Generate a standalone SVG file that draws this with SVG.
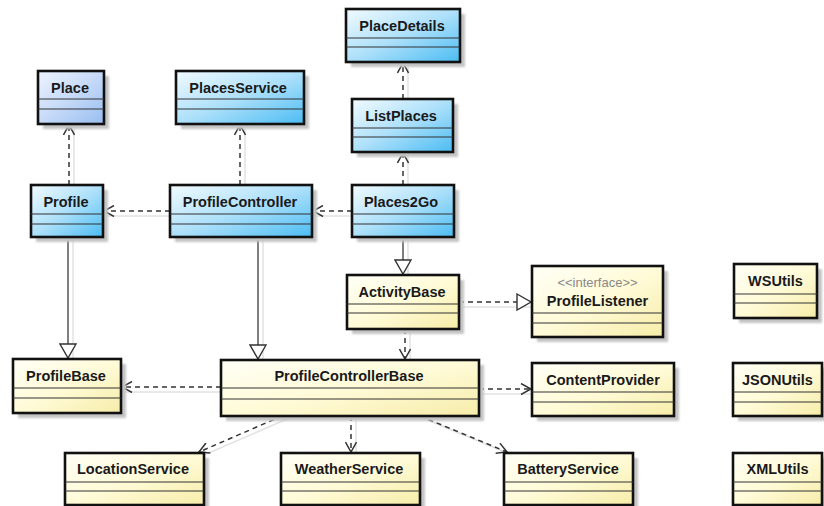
<svg xmlns="http://www.w3.org/2000/svg" width="824" height="506" viewBox="0 0 824 506">
<defs>
<linearGradient id="gBlue" x1="0" y1="0" x2="1" y2="1">
<stop offset="0" stop-color="#f2fbff"/>
<stop offset="0.5" stop-color="#ade0fa"/>
<stop offset="1" stop-color="#4bbcf3"/>
</linearGradient>
<linearGradient id="gLav" x1="0" y1="0" x2="1" y2="1">
<stop offset="0" stop-color="#eef4fe"/>
<stop offset="0.5" stop-color="#c6daf8"/>
<stop offset="1" stop-color="#98bdf0"/>
</linearGradient>
<linearGradient id="gYel" x1="0" y1="0" x2="1" y2="1">
<stop offset="0" stop-color="#fffff6"/>
<stop offset="0.5" stop-color="#fffbd8"/>
<stop offset="1" stop-color="#f6eca8"/>
</linearGradient>
<filter id="blur" x="-10%" y="-10%" width="130%" height="130%">
<feGaussianBlur stdDeviation="1.2"/>
</filter>
<marker id="open" viewBox="0 0 12 12" refX="11" refY="6" markerWidth="12" markerHeight="12" markerUnits="userSpaceOnUse" orient="auto">
<path d="M1,0.5 L11,6 L1,11.5" fill="none" stroke="#333" stroke-width="1.5" stroke-dasharray="none"/>
</marker>
<marker id="tri" viewBox="0 0 16 18" refX="15" refY="9" markerWidth="16" markerHeight="18" markerUnits="userSpaceOnUse" orient="auto">
<path d="M1,1 L15,9 L1,17 Z" fill="#fff" stroke="#333" stroke-width="1.4" stroke-dasharray="none"/>
</marker>
</defs>
<style>
.sh{fill:#c4c4c4;filter:url(#blur);}
.box{stroke:#111;stroke-width:2.6;}
.blue{fill:url(#gBlue);}
.lav{fill:url(#gLav);}
.yel{fill:url(#gYel);}
.div{stroke:#333;stroke-width:1.2;}
.t{font-family:"Liberation Sans",Arial,sans-serif;font-weight:bold;font-size:14.5px;fill:#1a1a1a;text-anchor:middle;}
.st{font-family:"Liberation Sans",Arial,sans-serif;font-size:13px;fill:#888;text-anchor:middle;}
.dash{fill:none;stroke:#333;stroke-width:1.5;stroke-dasharray:5,4;marker-end:url(#open);}
.real{fill:none;stroke:#333;stroke-width:1.5;stroke-dasharray:5,4;marker-end:url(#tri);}
.gen{fill:none;stroke:#555;stroke-width:1.5;marker-end:url(#tri);}
.lsh{fill:none;stroke:#e2e2e2;stroke-width:1.5;}
</style>

<g id="connectors">
<g id="conn-shadows">
<line class="lsh" x1="74" y1="185" x2="74" y2="127"/>
<line class="lsh" x1="245" y1="185" x2="245" y2="127"/>
<line class="lsh" x1="408" y1="99" x2="408" y2="65"/>
<line class="lsh" x1="408" y1="185" x2="408" y2="155"/>
<line class="lsh" x1="170" y1="216" x2="106" y2="216"/>
<line class="lsh" x1="352" y1="216" x2="315" y2="216"/>
<line class="lsh" x1="73" y1="240" x2="73" y2="360"/>
<line class="lsh" x1="263" y1="240" x2="263" y2="361"/>
<line class="lsh" x1="408" y1="240" x2="408" y2="276"/>
<line class="lsh" x1="462" y1="307" x2="535" y2="307"/>
<line class="lsh" x1="410" y1="332" x2="410" y2="361"/>
<line class="lsh" x1="221" y1="392" x2="124" y2="392"/>
<line class="lsh" x1="482" y1="394" x2="535" y2="394"/>
<line class="lsh" x1="287" y1="419" x2="204" y2="455"/>
<line class="lsh" x1="356" y1="419" x2="356" y2="455"/>
<line class="lsh" x1="425" y1="419" x2="512" y2="455"/>
</g>
<line class="dash" x1="69" y1="185" x2="69" y2="125"/>
<line class="dash" x1="240" y1="185" x2="240" y2="125"/>
<line class="dash" x1="403" y1="99" x2="403" y2="63"/>
<line class="dash" x1="403" y1="185" x2="403" y2="153"/>
<line class="dash" x1="170" y1="211" x2="104" y2="211"/>
<line class="dash" x1="352" y1="211" x2="313" y2="211"/>
<line class="gen" x1="403" y1="237" x2="403" y2="274"/>
<line class="gen" x1="68" y1="237" x2="68" y2="358"/>
<line class="gen" x1="258" y1="237" x2="258" y2="359"/>
<line class="real" x1="459" y1="302" x2="531" y2="302"/>
<line class="dash" x1="405" y1="329" x2="405" y2="359"/>
<line class="dash" x1="221" y1="387" x2="122" y2="387"/>
<line class="dash" x1="479" y1="389" x2="531" y2="389"/>
<line class="dash" x1="282" y1="416" x2="199" y2="452"/>
<line class="dash" x1="351" y1="416" x2="351" y2="452"/>
<line class="dash" x1="420" y1="416" x2="507" y2="452"/>
</g>

<g id="Place">
<rect class="sh" x="43" y="76" width="66" height="53"/>
<rect class="box lav" x="38" y="71" width="66" height="53"/>
<line class="div" x1="38" y1="99" x2="104" y2="99"/>
<line class="div" x1="38" y1="109" x2="104" y2="109"/>
<text class="t" x="70" y="93">Place</text>
</g>

<g id="PlacesService">
<rect class="sh" x="181" y="76" width="128" height="53"/>
<rect class="box blue" x="176" y="71" width="128" height="53"/>
<line class="div" x1="176" y1="99" x2="304" y2="99"/>
<line class="div" x1="176" y1="109" x2="304" y2="109"/>
<text class="t" x="238" y="93">PlacesService</text>
</g>

<g id="PlaceDetails">
<rect class="sh" x="351" y="14" width="114" height="53"/>
<rect class="box blue" x="346" y="9" width="114" height="53"/>
<line class="div" x1="346" y1="38" x2="460" y2="38"/>
<line class="div" x1="346" y1="47" x2="460" y2="47"/>
<text class="t" x="402" y="31">PlaceDetails</text>
</g>

<g id="ListPlaces">
<rect class="sh" x="357" y="104" width="101" height="53"/>
<rect class="box blue" x="352" y="99" width="101" height="53"/>
<line class="div" x1="352" y1="128" x2="453" y2="128"/>
<line class="div" x1="352" y1="137" x2="453" y2="137"/>
<text class="t" x="401" y="121">ListPlaces</text>
</g>

<g id="Profile">
<rect class="sh" x="36" y="190" width="72" height="52"/>
<rect class="box blue" x="31" y="185" width="72" height="52"/>
<line class="div" x1="31" y1="214" x2="103" y2="214"/>
<line class="div" x1="31" y1="224" x2="103" y2="224"/>
<text class="t" x="66" y="207">Profile</text>
</g>

<g id="ProfileController">
<rect class="sh" x="175" y="190" width="142" height="52"/>
<rect class="box blue" x="170" y="185" width="142" height="52"/>
<line class="div" x1="170" y1="214" x2="312" y2="214"/>
<line class="div" x1="170" y1="224" x2="312" y2="224"/>
<text class="t" x="240" y="207">ProfileController</text>
</g>

<g id="Places2Go">
<rect class="sh" x="357" y="190" width="102" height="52"/>
<rect class="box blue" x="352" y="185" width="102" height="52"/>
<line class="div" x1="352" y1="214" x2="454" y2="214"/>
<line class="div" x1="352" y1="224" x2="454" y2="224"/>
<text class="t" x="401" y="207">Places2Go</text>
</g>

<g id="ActivityBase">
<rect class="sh" x="352" y="280" width="112" height="54"/>
<rect class="box yel" x="347" y="275" width="112" height="54"/>
<line class="div" x1="347" y1="304" x2="459" y2="304"/>
<line class="div" x1="347" y1="313" x2="459" y2="313"/>
<text class="t" x="402" y="297">ActivityBase</text>
</g>

<g id="ProfileListener">
<rect class="sh" x="537" y="271" width="131" height="71"/>
<rect class="box yel" x="532" y="266" width="131" height="71"/>
<line class="div" x1="532" y1="313" x2="663" y2="313"/>
<line class="div" x1="532" y1="323" x2="663" y2="323"/>
<text class="st" x="597.5" y="287">&lt;&lt;interface&gt;&gt;</text>
<text class="t" x="597.5" y="306">ProfileListener</text>
</g>

<g id="WSUtils">
<rect class="sh" x="739" y="269" width="83" height="54"/>
<rect class="box yel" x="734" y="264" width="83" height="54"/>
<line class="div" x1="734" y1="294" x2="817" y2="294"/>
<line class="div" x1="734" y1="303" x2="817" y2="303"/>
<text class="t" x="775.5" y="286">WSUtils</text>
</g>

<g id="ProfileBase">
<rect class="sh" x="18" y="364" width="108" height="54"/>
<rect class="box yel" x="13" y="359" width="108" height="54"/>
<line class="div" x1="13" y1="388" x2="121" y2="388"/>
<line class="div" x1="13" y1="398" x2="121" y2="398"/>
<text class="t" x="66" y="381">ProfileBase</text>
</g>

<g id="ProfileControllerBase">
<rect class="sh" x="226" y="365" width="258" height="56"/>
<rect class="box yel" x="221" y="360" width="258" height="56"/>
<line class="div" x1="221" y1="388" x2="479" y2="388"/>
<line class="div" x1="221" y1="399" x2="479" y2="399"/>
<text class="t" x="349" y="381">ProfileControllerBase</text>
</g>

<g id="ContentProvider">
<rect class="sh" x="537" y="368" width="142" height="53"/>
<rect class="box yel" x="532" y="363" width="142" height="53"/>
<line class="div" x1="532" y1="392" x2="674" y2="392"/>
<line class="div" x1="532" y1="402" x2="674" y2="402"/>
<text class="t" x="603" y="385">ContentProvider</text>
</g>

<g id="JSONUtils">
<rect class="sh" x="738" y="368" width="89" height="53"/>
<rect class="box yel" x="733" y="363" width="89" height="53"/>
<line class="div" x1="733" y1="392" x2="822" y2="392"/>
<line class="div" x1="733" y1="402" x2="822" y2="402"/>
<text class="t" x="777.5" y="385">JSONUtils</text>
</g>

<g id="LocationService">
<rect class="sh" x="70" y="458" width="139" height="52"/>
<rect class="box yel" x="65" y="453" width="139" height="52"/>
<line class="div" x1="65" y1="482" x2="204" y2="482"/>
<line class="div" x1="65" y1="491" x2="204" y2="491"/>
<text class="t" x="133" y="474">LocationService</text>
</g>

<g id="WeatherService">
<rect class="sh" x="286" y="458" width="139" height="52"/>
<rect class="box yel" x="281" y="453" width="139" height="52"/>
<line class="div" x1="281" y1="482" x2="420" y2="482"/>
<line class="div" x1="281" y1="491" x2="420" y2="491"/>
<text class="t" x="349" y="474">WeatherService</text>
</g>

<g id="BatteryService">
<rect class="sh" x="509" y="458" width="129" height="52"/>
<rect class="box yel" x="504" y="453" width="129" height="52"/>
<line class="div" x1="504" y1="482" x2="633" y2="482"/>
<line class="div" x1="504" y1="491" x2="633" y2="491"/>
<text class="t" x="568" y="474">BatteryService</text>
</g>

<g id="XMLUtils">
<rect class="sh" x="738" y="458" width="89" height="52"/>
<rect class="box yel" x="733" y="453" width="89" height="52"/>
<line class="div" x1="733" y1="482" x2="822" y2="482"/>
<line class="div" x1="733" y1="491" x2="822" y2="491"/>
<text class="t" x="777.5" y="474">XMLUtils</text>
</g>
</svg>
